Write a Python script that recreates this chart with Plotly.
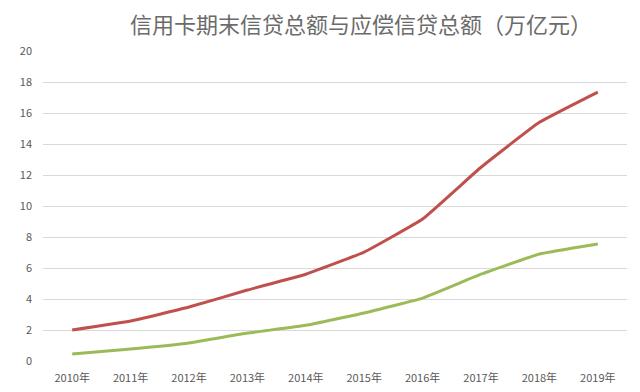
import plotly.graph_objects as go

years = ["2010年", "2011年", "2012年", "2013年", "2014年", "2015年", "2016年", "2017年", "2018年", "2019年"]
credit_total = [2.0, 2.58, 3.48, 4.58, 5.6, 7.03, 9.16, 12.5, 15.4, 17.35]
repay_total = [0.45, 0.77, 1.16, 1.8, 2.3, 3.1, 4.06, 5.6, 6.9, 7.55]
y_ticks = [0, 2, 4, 6, 8, 10, 12, 14, 16, 18, 20]

font_family = "Noto Sans CJK SC, Microsoft YaHei, sans-serif"

fig = go.Figure()
fig.add_trace(go.Scatter(x=years, y=credit_total, mode="lines",
                         line=dict(color="#C0504D", width=3, shape="spline", smoothing=0.3),
                         name="期末信贷总额"))
fig.add_trace(go.Scatter(x=years, y=repay_total, mode="lines",
                         line=dict(color="#9BBB59", width=3, shape="spline", smoothing=0.3),
                         name="应偿信贷总额"))

fig.update_layout(
    width=640, height=392,
    margin=dict(l=43, r=13, t=51, b=31, autoexpand=False),
    paper_bgcolor="white", plot_bgcolor="white",
    showlegend=False,
    title=dict(text="信用卡期末信贷总额与应偿信贷总额（万亿元）",
               x=361/640, xanchor="center", y=1 - 25/392, yanchor="middle",
               font=dict(family=font_family, size=22, color="#6B6B6B")),
    font=dict(family=font_family, color="#595959"),
)
fig.update_xaxes(type="category", range=[-0.5, 9.5], showgrid=False, showline=False,
                 zeroline=False, automargin=False,
                 tickfont=dict(size=11, color="#595959"), ticks="", ticklabelstandoff=9)
fig.update_yaxes(range=[0, 20], tickvals=y_ticks, showgrid=True, gridcolor="#D9D9D9",
                 gridwidth=1, zeroline=False, showline=False, automargin=False,
                 tickfont=dict(size=11, color="#595959"), ticks="", ticklabelstandoff=10)

fig.write_html("out.html", config={"displayModeBar": False},
               post_script="document.body.style.margin='0';")
